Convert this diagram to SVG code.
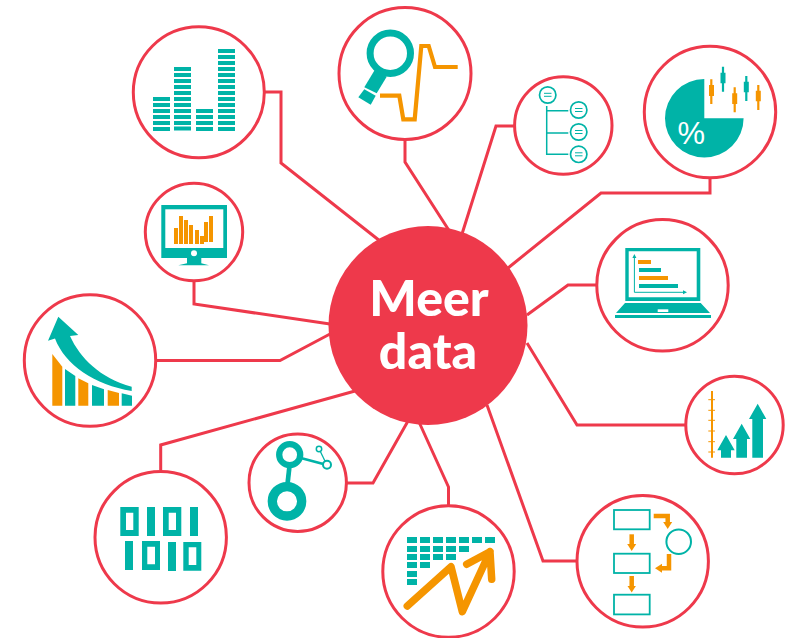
<svg xmlns="http://www.w3.org/2000/svg" width="789" height="638" viewBox="0 0 789 638">
<style>
.ring{fill:#fff;stroke:#ee394b;stroke-width:3}
.conn{fill:none;stroke:#ee394b;stroke-width:3;stroke-linejoin:miter}
.t{fill:#00b3a7}
.o{fill:#f59500}
.w{fill:#fff}
.ts{fill:none;stroke:#00b3a7}
.os{fill:none;stroke:#f59500}
.hub{font-family:Lato,"Open Sans",sans-serif;font-weight:900;font-size:50px;fill:#fff;text-anchor:middle}
</style>
<defs>
<marker id="oh" markerUnits="userSpaceOnUse" markerWidth="10" markerHeight="10" refX="1" refY="5" orient="auto"><path d="M0 0.500L7 5L0 9.500Z" fill="#f59500"/></marker>
<marker id="th" markerUnits="userSpaceOnUse" markerWidth="6" markerHeight="6" refX="1" refY="2" orient="auto"><path d="M0 0L4 2L0 4Z" fill="#00b3a7"/></marker>
</defs>
<rect width="789" height="638" fill="#fff"/>
<g id="connectors" class="conn">
<path d="M265 92H281V163L380 241"/>
<path d="M405 139V162L450 232"/>
<path d="M514 126H496L462 234"/>
<path d="M710 178V193H601L508 268"/>
<path d="M596 285H568L527 315"/>
<path d="M685 425H577L527 343"/>
<path d="M576 561H543L487 405"/>
<path d="M448.500 505V487L419 422"/>
<path d="M347 483H373L408 421"/>
<path d="M160.700 470V445L355 391"/>
<path d="M157 360.500H280L330 334"/>
<path d="M194 282V304L330 324"/>
</g>
<g id="hub">
<circle cx="428" cy="325.500" r="99.500" fill="#ee394b"/>
<text class="hub" x="429" y="316">Meer</text>
<text class="hub" x="428" y="369">data</text>
</g>
<g id="node-bars">
<circle class="ring" cx="198.800" cy="92.300" r="65.500"/>
<path class="t" d="M153 97h17v4h-17zM153 103h17v4h-17zM153 109h17v4h-17zM153 115h17v4h-17zM153 121h17v4h-17zM153 127h17v4h-17z"/>
<path class="t" d="M174 67h17v4h-17zM174 73h17v4h-17zM174 79h17v4h-17zM174 85h17v4h-17zM174 91h17v4h-17zM174 97h17v4h-17zM174 103h17v4h-17zM174 109h17v4h-17zM174 115h17v4h-17zM174 121h17v4h-17zM174 126.500h17v4h-17z"/>
<path class="t" d="M196 109h17v4h-17zM196 115h17v4h-17zM196 121h17v4h-17zM196 127h17v4h-17z"/>
<path class="t" d="M218 49h17v4h-17zM218 55h17v4h-17zM218 61h17v4h-17zM218 67h17v4h-17zM218 73h17v4h-17zM218 79h17v4h-17zM218 85h17v4h-17zM218 91h17v4h-17zM218 97h17v4h-17zM218 103h17v4h-17zM218 109h17v4h-17zM218 115h17v4h-17zM218 121h17v4h-17zM218 127h17v4h-17z"/>
</g>
<g id="node-magnifier">
<circle class="ring" cx="405" cy="73.500" r="66"/>
<circle class="ts" cx="390.300" cy="53.300" r="20.200" stroke-width="7"/>
<path class="t" d="M374.700 70L386.700 76.700L376.700 93.300L364.300 87.300Z"/>
<path class="t" d="M364.300 89.300L375.700 95.700L370.700 104.700L358.300 97.300Z"/>
<path class="os" stroke-width="4.200" d="M380 95.700H399.300L403.300 119.300H414.700L421.300 46H428.700L435 67H457.700"/>
</g>
<g id="node-tree">
<circle class="ring" cx="563.300" cy="125.500" r="48.700"/>
<path class="ts" stroke-width="1.500" d="M546.700 106V154.300H568.300M546.700 110.700H568.300M546.700 133H568.300"/>
<g class="ts" stroke-width="1.700">
<circle cx="547.700" cy="95" r="8.200"/><circle cx="578.700" cy="110" r="8.200"/><circle cx="578.700" cy="132" r="8.200"/><circle cx="578.700" cy="154.300" r="8.200"/>
</g>
<path class="ts" stroke-width="1" d="M544 93.300h7.500M544 96.300h7.500M575 108.500h7.500M575 111.500h7.500M575 130.500h7.500M575 133.500h7.500M575 152.800h7.500M575 155.800h7.500"/>
</g>
<g id="node-pie">
<circle class="ring" cx="710" cy="112" r="65.700"/>
<path class="t" d="M704.300 118.300V79A39.300 39.300 0 1 0 743.600 118.300Z"/>
<text x="691.300" y="144" font-family="'Liberation Sans',sans-serif" font-size="31" fill="#fff" text-anchor="middle">%</text>
<path class="os" stroke-width="2.200" d="M711.300 79.300V104M734.700 87.300V112.300M758.300 85V110"/>
<path class="ts" stroke-width="2.200" d="M723 66.700V91.700M746.300 76V101"/>
<path class="o" d="M709 85h5v11h-5zM732.200 93.300h5v10.700h-5zM755.800 90.700h5v10.600h-5z"/>
<path class="t" d="M720.500 72.700h5v10.600h-5zM743.800 81.700h5v10.600h-5z"/>
</g>
<g id="node-monitor">
<circle class="ring" cx="194" cy="232" r="48.700"/>
<path class="t" d="M161.300 205H227V258H201.300V263.300L209 265.300H178.300L187 263.300V258H161.300Z"/>
<rect class="w" x="165.300" y="209.300" width="58" height="38.700"/>
<circle class="w" cx="194" cy="253.300" r="3"/>
<path class="o" d="M174 228h4v16h-4zM179 216h4v28h-4zM184 220h4v24h-4zM189 225h4v19h-4zM195 230h4v14h-4zM200 236h4v8h-4zM204 222h4v20h-4zM209 216h4v26h-4z"/>
</g>
<g id="node-curve">
<circle class="ring" cx="90" cy="360.500" r="65.700"/>
<path class="t" d="M58.300 316.700L78.300 335L70 336C80 358 100 378 131.700 386.700V391C95 385 65 365 55 338.500L48 340.700Z"/>
<path class="o" d="M52.300 354L62.300 366.700V405.700H52.300ZM78.300 378.300L88.300 383.300V405.700H78.300ZM107.700 390L119 393V405.700H107.700Z"/>
<path class="t" d="M65 369L75.300 376V405.700H65ZM92 385L104 389.300V405.700H92ZM121.700 393.300L132 395.700V405.700H121.700Z"/>
</g>
<g id="node-laptop">
<circle class="ring" cx="662.500" cy="285.300" r="65.700"/>
<path class="t" fill-rule="evenodd" d="M625.300 248H700.300V301H625.300ZM628.700 251.300V297.300H696.700V251.300Z"/>
<path class="t" d="M625 303H700.700L710 313H616ZM615 315H711V318H615Z"/>
<rect class="w" x="657.700" y="309.300" width="10.600" height="2.700"/>
<path class="ts" stroke-width="1" marker-end="url(#th)" d="M634.400 292.300V257"/>
<path class="ts" stroke-width="1" marker-end="url(#th)" d="M634.400 292.300H684"/>
<path class="o" d="M638 260h13v4h-13zM639 276h29v4h-29z"/>
<path class="t" d="M639 268h22v4h-22zM639 284h39v4h-39z"/>
</g>
<g id="node-arrows">
<circle class="ring" cx="734.500" cy="425" r="48.700"/>
<path class="os" stroke-width="2" d="M712 391V457.700"/>
<path class="os" stroke-width="1" d="M708.300 399.700h6.700M708.300 410.300h6.700M708.300 420.300h6.700M708.300 431h6.700M708.300 441.700h6.700M708.300 452h6.700"/>
<path class="t" d="M726 435L734.700 450.300H731V457.700H721V450.300H717.300ZM741.700 423.700L750.300 439H747V457.700H736.300V439H733ZM757.700 403.700L766.300 419H763V457.700H752.300V419H749Z"/>
</g>
<g id="node-binary">
<circle class="ring" cx="160.700" cy="537.300" r="65.700"/>
<path class="t" fill-rule="evenodd" d="M120.300 507H138.700V536H120.300ZM126 512.700V530H133.300V512.700ZM147 507H155V536H147ZM163 507H181.300V536H163ZM168.700 512.700V530H176V512.700ZM190 507H198V536H190Z"/>
<path class="t" fill-rule="evenodd" d="M125 541H133V570H125ZM142 541H160V570H142ZM147.300 546.700V564.300H155V546.700ZM168 542H176V571H168ZM183.300 542H201.300V570.700H183.300ZM188.700 547.300V565H196.300V547.300Z"/>
</g>
<g id="node-network">
<circle class="ring" cx="297.700" cy="482.700" r="48.700"/>
<path class="ts" stroke-width="4.700" d="M289.500 466L287.500 484"/>
<path class="ts" stroke-width="2.700" d="M301.700 458.300L323.300 464"/>
<path class="ts" stroke-width="1.300" d="M320 450.700L325.300 461.700"/>
<circle class="ts" cx="287" cy="501.300" r="14.700" stroke-width="9.300"/>
<circle class="ts" cx="289.700" cy="454.700" r="10.500" stroke-width="6.300"/>
<circle class="ts" cx="327" cy="464.700" r="4" stroke-width="2"/>
<circle class="ts" cx="319" cy="449" r="2.700" stroke-width="1.500"/>
</g>
<g id="node-chart">
<circle class="ring" cx="448.500" cy="571.500" r="65.700"/>
<path class="t" d="M407 537h10v6h-10zM420 537h10v6h-10zM433 537h10v6h-10zM446 537h10v6h-10zM459 537h10v6h-10zM472 537h10v6h-10zM485 537h10v6h-10zM407 546h10v6h-10zM420 546h10v6h-10zM433 546h10v6h-10zM446 546h10v6h-10zM459 546h10v6h-10zM407 554h10v6h-10zM420 554h10v6h-10zM433 554h10v6h-10zM446 554h10v6h-10zM407 562h10v6h-10zM420 562h10v6h-10zM407 571h10v6h-10zM407 579h10v6h-10z"/>
<path class="os" stroke-width="7.500" stroke-linecap="round" stroke-linejoin="round" d="M407.300 606L451 566.700L462.300 611.700L490 551.700M466.700 564.300L490 551.700L491.700 579.300"/>
</g>
<g id="node-flow">
<circle class="ring" cx="642.700" cy="561.300" r="65.700"/>
<g class="ts" stroke-width="1.800">
<rect x="614" y="510" width="35.700" height="19.300"/>
<rect x="614" y="553.700" width="35.700" height="19.300"/>
<rect x="614" y="594.700" width="35.700" height="19.700"/>
<circle cx="678.700" cy="541.700" r="12.300" stroke-width="2"/>
</g>
<g class="os" stroke-width="4.500">
<path marker-end="url(#oh)" d="M631.700 534.300V545"/>
<path marker-end="url(#oh)" d="M631.700 576V586.500"/>
<path marker-end="url(#oh)" d="M653.700 516H667.700V523"/>
<path marker-end="url(#oh)" d="M669 554V568.300H661"/>
</g>
</g>
</svg>
